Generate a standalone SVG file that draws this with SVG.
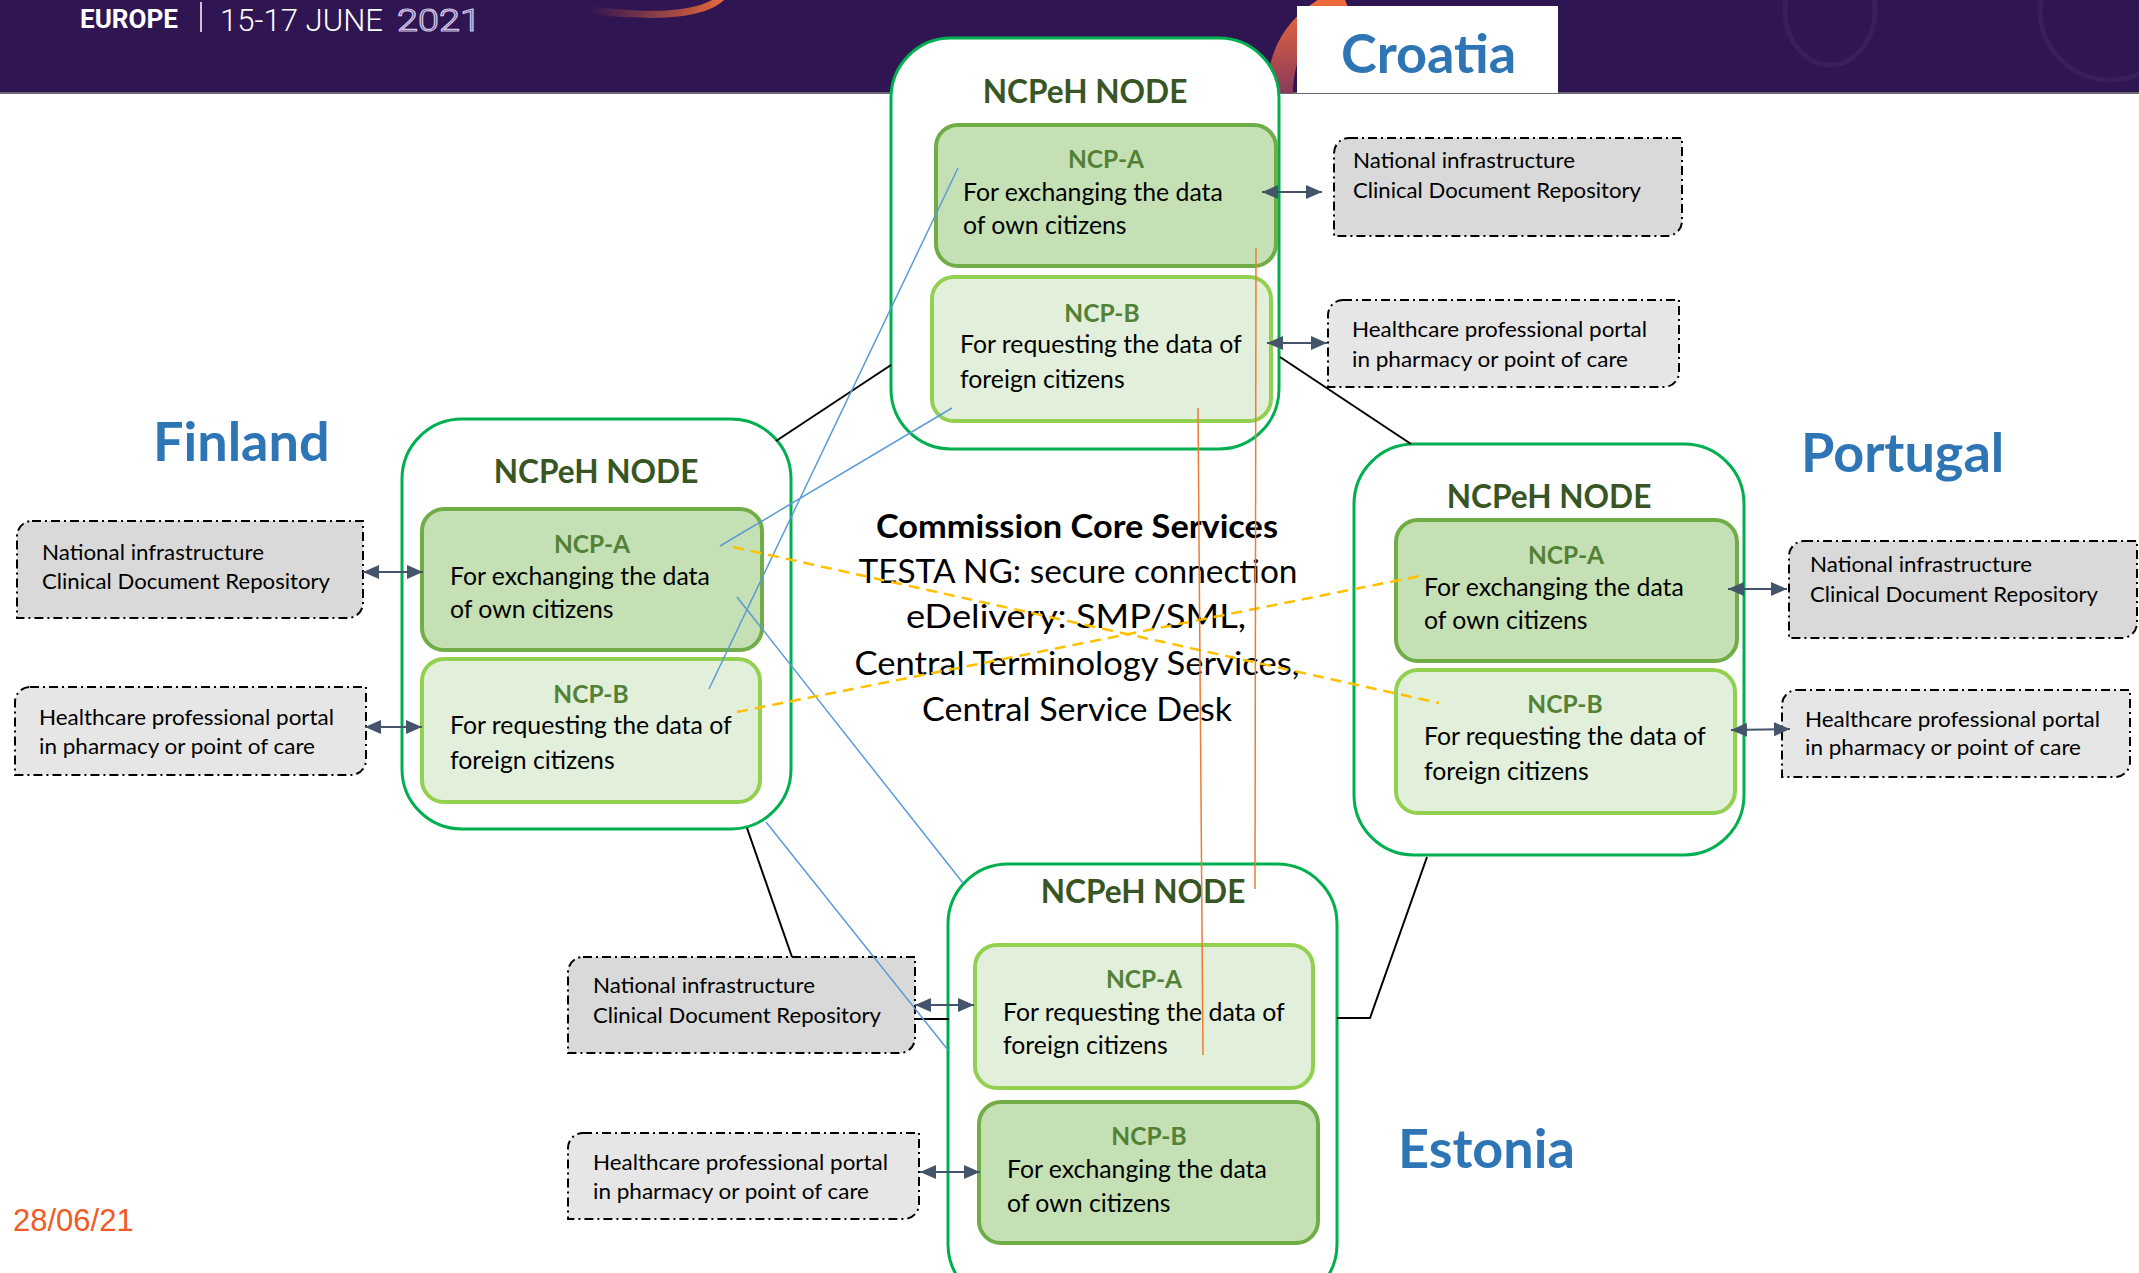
<svg xmlns="http://www.w3.org/2000/svg" width="2139" height="1273" viewBox="0 0 2139 1273">
<defs>
<style>
.band{fill:#2F1552}
.node{fill:#ffffff;stroke:#00B050;stroke-width:3}
.ncpA{fill:#C5E0B4;stroke:#70AD47;stroke-width:4}
.ncpB{fill:#E2EFDA;stroke:#92D050;stroke-width:4}
.ext{stroke:#000;stroke-width:2;stroke-dasharray:9 4 2 4}
.ni{fill:#D9D9D9}
.hc{fill:#E7E6E6}
.title{font-family:Lato,"Open Sans",sans-serif;font-weight:700;font-size:31.6px;fill:#375623;text-anchor:middle}
.ncpt{font-family:Lato,"Open Sans",sans-serif;font-weight:700;font-size:24.5px;fill:#538135;text-anchor:middle}
.body{font-family:Lato,"Open Sans",sans-serif;font-size:24.8px;fill:#000}
.small{font-family:Lato,"Open Sans",sans-serif;font-size:20.5px;fill:#000}
.country{font-family:Lato,"Open Sans",sans-serif;font-weight:700;font-size:54px;fill:#2E75B6}
.core{font-family:Lato,"Open Sans",sans-serif;font-size:33px;fill:#000;text-anchor:middle}
.arrow{stroke:#44546A;stroke-width:2;fill:none;marker-start:url(#ah);marker-end:url(#ah)}
.blk{stroke:#000;stroke-width:2;fill:none}
.blue{stroke:#5B9BD5;stroke-width:1.5;fill:none}
.odash{stroke:#FFC000;stroke-width:2.5;stroke-dasharray:11 7;fill:none}
.osol{stroke:#ED7D31;stroke-width:1.5;fill:none}
.hdr{font-family:Roboto,"DejaVu Sans",sans-serif;font-weight:300;font-size:32px}
</style>
<marker id="ah" viewBox="0 0 16 14" refX="16" refY="7" markerWidth="16" markerHeight="14" markerUnits="userSpaceOnUse" orient="auto-start-reverse">
<path d="M0 0 L16 7 L0 14 Z" fill="#44546A"/>
</marker>
<linearGradient id="og" x1="0" y1="0" x2="0" y2="1">
<stop offset="0" stop-color="#F26B3A"/>
<stop offset="1" stop-color="#8A3A5A"/>
</linearGradient>
<linearGradient id="og2" x1="0" y1="0" x2="1" y2="0">
<stop offset="0" stop-color="#2F1552"/>
<stop offset="1" stop-color="#E8693A"/>
</linearGradient>
</defs>

<rect width="2139" height="1273" fill="#ffffff"/>

<!-- header band -->
<g id="header">
<rect class="band" x="0" y="0" width="2139" height="93"/>
<line x1="0" y1="93" x2="2139" y2="93" stroke="#6B6473" stroke-width="2"/>
<path d="M590 6 C650 14 690 12 712 0 L724 0 C705 18 660 22 590 14 Z" fill="url(#og2)"/>
<path d="M1345 0 C1300 20 1280 50 1280 93" stroke="url(#og)" stroke-width="26" fill="none"/>
<ellipse cx="1830" cy="10" rx="45" ry="55" fill="none" stroke="#37205A" stroke-width="5"/>
<ellipse cx="2110" cy="10" rx="70" ry="70" fill="none" stroke="#37205A" stroke-width="5"/>
<text x="80" y="28" font-family="Roboto,'DejaVu Sans',sans-serif" font-weight="700" font-size="25" fill="#ffffff" textLength="98" lengthAdjust="spacingAndGlyphs">EUROPE</text>
<line x1="201" y1="2" x2="201" y2="32" stroke="#ffffff" stroke-width="1.5"/>
<text class="hdr" x="220" y="31" fill="#ffffff" textLength="163" lengthAdjust="spacingAndGlyphs">15-17 JUNE</text>
<text class="hdr" x="397" y="31" fill="none" stroke="#D4C6EA" stroke-width="1.2" textLength="84" lengthAdjust="spacingAndGlyphs">2021</text>
<rect x="1297" y="6" width="261" height="87" fill="#ffffff"/>
</g>

<!-- country labels -->
<g id="label-croatia"><text class="country" x="1341" y="73">Croatia</text></g>
<g id="label-finland"><text class="country" x="153" y="461">Finland</text></g>
<g id="label-portugal"><text class="country" x="1801" y="472">Portugal</text></g>
<g id="label-estonia"><text class="country" x="1398" y="1168">Estonia</text></g>

<!-- Croatia node -->
<g id="node-croatia">
<rect class="node" x="891" y="38" width="388" height="411" rx="60"/>
<text class="title" x="1085" y="103">NCPeH NODE</text>
<g id="croatia-ncpa">
<rect class="ncpA" x="936" y="125" width="340" height="141" rx="22"/>
<text class="ncpt" x="1106" y="168">NCP-A</text>
<text class="body" x="963" y="201">For exchanging the data</text>
<text class="body" x="963" y="234">of own citizens</text>
</g>
<g id="croatia-ncpb">
<rect class="ncpB" x="932" y="277" width="339" height="144" rx="22"/>
<text class="ncpt" x="1102" y="322">NCP-B</text>
<text class="body" x="960" y="353">For requesting the data of</text>
<text class="body" x="960" y="388">foreign citizens</text>
</g>
</g>

<!-- Finland node -->
<g id="node-finland">
<rect class="node" x="402" y="419" width="389" height="410" rx="60"/>
<text class="title" x="596" y="483">NCPeH NODE</text>
<g id="finland-ncpa">
<rect class="ncpA" x="422" y="509" width="340" height="141" rx="22"/>
<text class="ncpt" x="592" y="553">NCP-A</text>
<text class="body" x="450" y="585">For exchanging the data</text>
<text class="body" x="450" y="618">of own citizens</text>
</g>
<g id="finland-ncpb">
<rect class="ncpB" x="422" y="659" width="338" height="143" rx="22"/>
<text class="ncpt" x="591" y="703">NCP-B</text>
<text class="body" x="450" y="734">For requesting the data of</text>
<text class="body" x="450" y="769">foreign citizens</text>
</g>
</g>

<!-- Portugal node -->
<g id="node-portugal">
<rect class="node" x="1354" y="444" width="390" height="411" rx="60"/>
<text class="title" x="1549" y="508">NCPeH NODE</text>
<g id="portugal-ncpa">
<rect class="ncpA" x="1396" y="520" width="341" height="141" rx="22"/>
<text class="ncpt" x="1566" y="564">NCP-A</text>
<text class="body" x="1424" y="596">For exchanging the data</text>
<text class="body" x="1424" y="629">of own citizens</text>
</g>
<g id="portugal-ncpb">
<rect class="ncpB" x="1396" y="670" width="339" height="143" rx="22"/>
<text class="ncpt" x="1565" y="713">NCP-B</text>
<text class="body" x="1424" y="745">For requesting the data of</text>
<text class="body" x="1424" y="780">foreign citizens</text>
</g>
</g>

<!-- Estonia node -->
<g id="node-estonia">
<rect class="node" x="948" y="864" width="389" height="440" rx="60"/>
<text class="title" x="1143" y="903">NCPeH NODE</text>
<g id="estonia-ncpa">
<rect class="ncpB" x="975" y="945" width="338" height="143" rx="22"/>
<text class="ncpt" x="1144" y="988">NCP-A</text>
<text class="body" x="1003" y="1021">For requesting the data of</text>
<text class="body" x="1003" y="1054">foreign citizens</text>
</g>
<g id="estonia-ncpb">
<rect class="ncpA" x="979" y="1102" width="339" height="141" rx="22"/>
<text class="ncpt" x="1149" y="1145">NCP-B</text>
<text class="body" x="1007" y="1178">For exchanging the data</text>
<text class="body" x="1007" y="1212">of own citizens</text>
</g>
</g>

<!-- external boxes -->
<g id="croatia-ni">
<path class="ext ni" d="M1349 138 H1682 V221 A15 15 0 0 1 1667 236 H1334 V153 A15 15 0 0 1 1349 138 Z"/>
<text class="small" x="1353" y="168" textLength="222" lengthAdjust="spacingAndGlyphs">National infrastructure</text>
<text class="small" x="1353" y="198" textLength="288" lengthAdjust="spacingAndGlyphs">Clinical Document Repository</text>
</g>
<g id="croatia-hc">
<path class="ext hc" d="M1343 300 H1679 V372 A15 15 0 0 1 1664 387 H1328 V315 A15 15 0 0 1 1343 300 Z"/>
<text class="small" x="1352" y="337" textLength="295" lengthAdjust="spacingAndGlyphs">Healthcare professional portal</text>
<text class="small" x="1352" y="367" textLength="276" lengthAdjust="spacingAndGlyphs">in pharmacy or point of care</text>
</g>
<g id="finland-ni">
<path class="ext ni" d="M32 521 H363 V603 A15 15 0 0 1 348 618 H17 V536 A15 15 0 0 1 32 521 Z"/>
<text class="small" x="42" y="560" textLength="222" lengthAdjust="spacingAndGlyphs">National infrastructure</text>
<text class="small" x="42" y="589" textLength="288" lengthAdjust="spacingAndGlyphs">Clinical Document Repository</text>
</g>
<g id="finland-hc">
<path class="ext hc" d="M30 687 H366 V760 A15 15 0 0 1 351 775 H15 V702 A15 15 0 0 1 30 687 Z"/>
<text class="small" x="39" y="725" textLength="295" lengthAdjust="spacingAndGlyphs">Healthcare professional portal</text>
<text class="small" x="39" y="754" textLength="276" lengthAdjust="spacingAndGlyphs">in pharmacy or point of care</text>
</g>
<g id="portugal-ni">
<path class="ext ni" d="M1804 541 H2137 V623 A15 15 0 0 1 2122 638 H1789 V556 A15 15 0 0 1 1804 541 Z"/>
<text class="small" x="1810" y="572" textLength="222" lengthAdjust="spacingAndGlyphs">National infrastructure</text>
<text class="small" x="1810" y="602" textLength="288" lengthAdjust="spacingAndGlyphs">Clinical Document Repository</text>
</g>
<g id="portugal-hc">
<path class="ext hc" d="M1797 690 H2130 V762 A15 15 0 0 1 2115 777 H1782 V705 A15 15 0 0 1 1797 690 Z"/>
<text class="small" x="1805" y="727" textLength="295" lengthAdjust="spacingAndGlyphs">Healthcare professional portal</text>
<text class="small" x="1805" y="755" textLength="276" lengthAdjust="spacingAndGlyphs">in pharmacy or point of care</text>
</g>
<g id="estonia-ni">
<path class="ext ni" d="M583 957 H915 V1038 A15 15 0 0 1 900 1053 H568 V972 A15 15 0 0 1 583 957 Z"/>
<text class="small" x="593" y="993" textLength="222" lengthAdjust="spacingAndGlyphs">National infrastructure</text>
<text class="small" x="593" y="1023" textLength="288" lengthAdjust="spacingAndGlyphs">Clinical Document Repository</text>
</g>
<g id="estonia-hc">
<path class="ext hc" d="M583 1133 H919 V1204 A15 15 0 0 1 904 1219 H568 V1148 A15 15 0 0 1 583 1133 Z"/>
<text class="small" x="593" y="1170" textLength="295" lengthAdjust="spacingAndGlyphs">Healthcare professional portal</text>
<text class="small" x="593" y="1199" textLength="276" lengthAdjust="spacingAndGlyphs">in pharmacy or point of care</text>
</g>

<!-- central text -->
<g id="core-services">
<text class="core" x="1077" y="538" font-weight="700" textLength="402" lengthAdjust="spacingAndGlyphs">Commission Core Services</text>
<text class="core" x="1078" y="583" textLength="439" lengthAdjust="spacingAndGlyphs">TESTA NG: secure connection</text>
<text class="core" x="1076" y="628" textLength="340" lengthAdjust="spacingAndGlyphs">eDelivery: SMP/SML,</text>
<text class="core" x="1077" y="675" textLength="445" lengthAdjust="spacingAndGlyphs">Central Terminology Services,</text>
<text class="core" x="1077" y="721" textLength="310" lengthAdjust="spacingAndGlyphs">Central Service Desk</text>
</g>

<!-- connectors -->
<g id="connectors">
<line class="blk" x1="891" y1="365" x2="776" y2="441"/>
<line class="blk" x1="1280" y1="357" x2="1411" y2="444"/>
<line class="blk" x1="747" y1="828" x2="792" y2="957"/>
<line class="blk" x1="915" y1="1019" x2="949" y2="1019"/>
<polyline class="blk" points="1337,1018 1370,1018 1427,857"/>
<line class="arrow" x1="1262" y1="192" x2="1322" y2="192"/>
<line class="arrow" x1="1267" y1="343" x2="1327" y2="343"/>
<line class="arrow" x1="423" y1="572" x2="363" y2="572"/>
<line class="arrow" x1="422" y1="727" x2="365" y2="727"/>
<line class="arrow" x1="1728" y1="589" x2="1787" y2="589"/>
<line class="arrow" x1="1731" y1="730" x2="1790" y2="729"/>
<line class="arrow" x1="915" y1="1005" x2="974" y2="1005"/>
<line class="arrow" x1="920" y1="1172" x2="980" y2="1172"/>
<line class="blue" x1="958" y1="168" x2="709" y2="689"/>
<line class="blue" x1="952" y1="408" x2="720" y2="546"/>
<line class="blue" x1="737" y1="597" x2="963" y2="883"/>
<line class="blue" x1="766" y1="822" x2="948" y2="1050"/>
<line class="odash" x1="733" y1="547" x2="1439" y2="703"/>
<line class="odash" x1="737" y1="712" x2="1425" y2="575"/>
<line class="osol" x1="1256" y1="248" x2="1255" y2="889"/>
<line class="osol" x1="1198" y1="408" x2="1203" y2="1055"/>
</g>

<g id="date"><text x="13" y="1231" font-family="'Liberation Sans',Arial,sans-serif" font-size="31" fill="#F15A24">28/06/21</text></g>
</svg>
